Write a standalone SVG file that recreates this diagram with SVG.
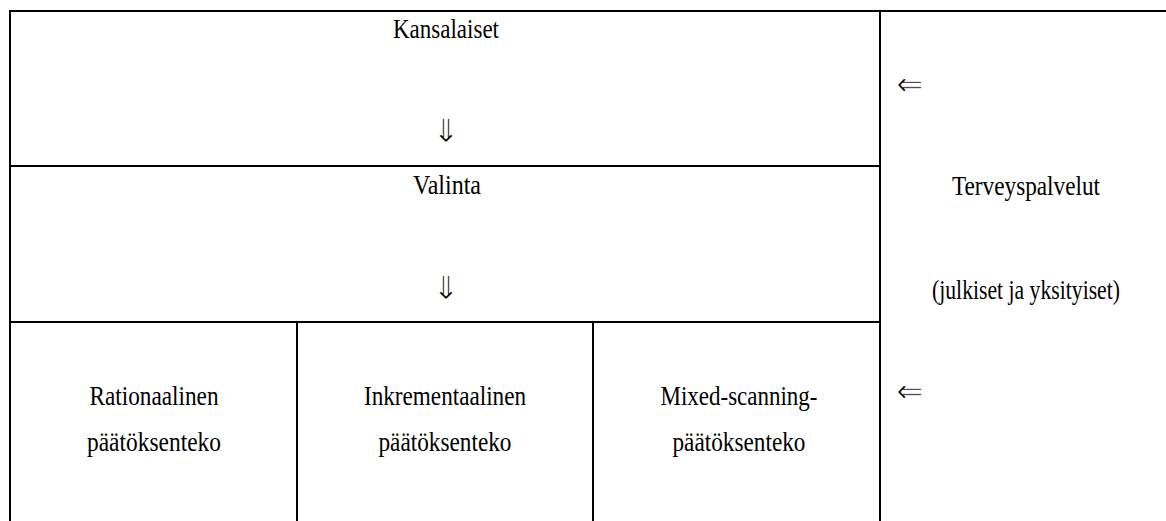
<svg xmlns="http://www.w3.org/2000/svg" width="1166" height="521" viewBox="0 0 1166 521">
<style>
.t{font-family:'Liberation Serif',Tinos,'Times New Roman',serif;font-size:27px;fill:#000;text-anchor:middle}
.a{font-family:'DejaVu Sans',sans-serif;font-size:32px;fill:#000;stroke:#fff;stroke-width:0.8px;text-anchor:middle}
.l{stroke:#000;stroke-width:2;fill:none}
</style>
<rect width="1166" height="521" fill="#fff"/>
<g id="grid">
<line class="l" x1="10" y1="11" x2="1166" y2="11"/>
<line class="l" x1="10" y1="10" x2="10" y2="521"/>
<line class="l" x1="880" y1="11" x2="880" y2="521"/>
<line class="l" x1="10" y1="166" x2="880" y2="166"/>
<line class="l" x1="10" y1="322" x2="880" y2="322"/>
<line class="l" x1="297" y1="322" x2="297" y2="521"/>
<line class="l" x1="593" y1="322" x2="593" y2="521"/>
</g>
<g id="kansalaiset"><text class="t" x="446" y="38" textLength="106" lengthAdjust="spacingAndGlyphs">Kansalaiset</text></g>
<g id="valinta"><text class="t" x="447" y="194" textLength="68" lengthAdjust="spacingAndGlyphs">Valinta</text></g>
<g id="rationaalinen"><text class="t" x="154" y="405" textLength="129" lengthAdjust="spacingAndGlyphs">Rationaalinen</text><text class="t" x="154" y="451" textLength="134" lengthAdjust="spacingAndGlyphs">päätöksenteko</text></g>
<g id="inkrementaalinen"><text class="t" x="445" y="405" textLength="162" lengthAdjust="spacingAndGlyphs">Inkrementaalinen</text><text class="t" x="445" y="451" textLength="133" lengthAdjust="spacingAndGlyphs">päätöksenteko</text></g>
<g id="mixed"><text class="t" x="739" y="405" textLength="157" lengthAdjust="spacingAndGlyphs">Mixed-scanning-</text><text class="t" x="739" y="451" textLength="133" lengthAdjust="spacingAndGlyphs">päätöksenteko</text></g>
<g id="terveyspalvelut"><text class="t" x="1026" y="195" textLength="148" lengthAdjust="spacingAndGlyphs">Terveyspalvelut</text><text class="t" x="1026" y="299" textLength="188" lengthAdjust="spacingAndGlyphs">(julkiset ja yksityiset)</text></g>
<g id="connectors">
<text class="a" x="446" y="142">⇓</text>
<text class="a" x="446" y="299">⇓</text>
<text class="a" x="910" y="95">⇐</text>
<text class="a" x="910" y="402">⇐</text>
</g>
</svg>
